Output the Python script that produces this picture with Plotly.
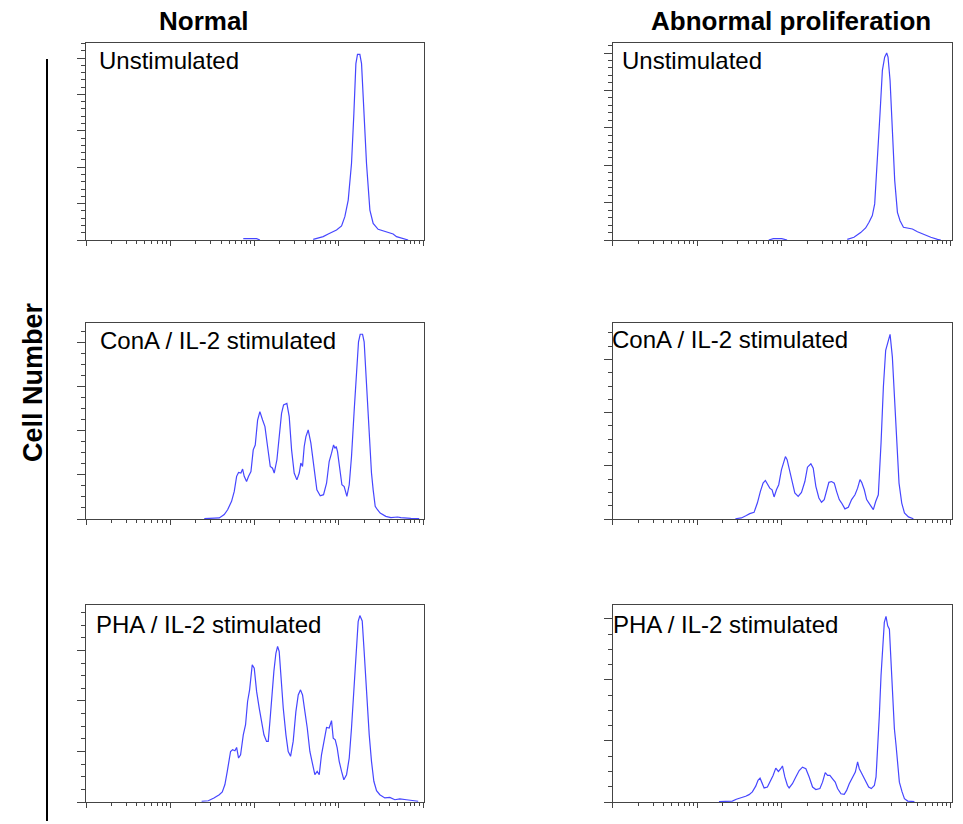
import plotly.graph_objects as go

W, H = 963, 824

# ---- text -------------------------------------------------------------
column_titles = ["Normal", "Abnormal proliferation"]
row_labels = ["Unstimulated", "ConA / IL-2 stimulated", "PHA / IL-2 stimulated"]
y_title = "Cell Number"

# ---- histograms: log10 fluorescence intensity vs. cell count ----------
# (None marks an empty stretch with no events between two populations)
normal_unstim_logfl = [1.866, 1.945, 2.024, 2.063, None, 2.696, 2.814, 2.874,
                       2.972, 3.032, 3.071, 3.111, 3.150, 3.178, 3.202, 3.221, 3.249, 3.269,
                       3.296, 3.328, 3.368, 3.407, 3.466, 3.565, 3.644, 3.684, 3.763, 3.822]
normal_unstim_count = [1.5, 1.8, 1.5, 0, None, 0.7, 3.7, 6.6,
                       11.0, 15.4, 25.6, 43.9, 84.1, 138.9, 193.8, 204.0, 204.0, 193.8,
                       138.9, 84.1, 32.9, 18.3, 11.7, 9.1, 6.6, 3.7, 1.8, 0]

abnormal_unstim_logfl = [1.846, 1.90, 2.00, 2.063, None, 2.775, 2.854, 2.933, 2.992,
                         3.032, 3.071, 3.099, 3.130, 3.162, 3.190, 3.217, 3.241, 3.257, 3.281,
                         3.308, 3.336, 3.368, 3.399, 3.439, 3.506, 3.545, 3.605, 3.684, 3.763,
                         3.842, 3.881]
abnormal_unstim_count = [0, 1.4, 1.4, 0, None, 0.7, 2.9, 7.9, 12.9,
                         18.9, 26.1, 38.6, 81.4, 135.0, 181.4, 195.6, 200.0, 195.6, 170.6,
                         117.1, 63.5, 29.6, 20.7, 13.6, 12.9, 11.8, 8.9, 5.7, 2.9,
                         0.7, 0]

normal_cona_logfl = [1.403, 1.502, 1.581, 1.640, 1.680, 1.727, 1.759, 1.787, 1.810, 1.838,
                     1.858, 1.877, 1.905, 1.929, 1.957, 1.984, 2.008, 2.036, 2.063, 2.095,
                     2.123, 2.154, 2.186, 2.213, 2.233, 2.265, 2.292, 2.320, 2.344, 2.383,
                     2.411, 2.439, 2.470, 2.502, 2.530, 2.549, 2.569, 2.589, 2.609, 2.636,
                     2.668, 2.700, 2.739, 2.779, 2.818, 2.854, 2.885, 2.913, 2.937, 2.953,
                     2.968, 2.984, 3.008, 3.036, 3.063, 3.095, 3.123, 3.150, 3.182, 3.209,
                     3.233, 3.253, 3.281, 3.300, 3.332, 3.360, 3.387, 3.407, 3.431, 3.458,
                     3.490, 3.557, 3.617, 3.696, 3.735, 3.854, 3.953]
normal_cona_count = [0.15, 0.2, 0.5, 2.0, 4.2, 8.0, 12.5, 19.3, 21.1, 20.8,
                     22.6, 19.3, 17.0, 19.3, 21.5, 31.3, 33.5, 44.8, 48.6, 44.8,
                     41.8, 32.8, 23.8, 23.0, 20.8, 26.8, 37.3, 47.8, 51.6, 52.3,
                     46.3, 31.3, 20.8, 17.7, 20.8, 25.3, 23.8, 32.8, 37.3, 40.3,
                     34.3, 23.8, 13.2, 10.5, 11.0, 16.2, 26.0, 29.8, 33.5, 32.0,
                     32.8, 30.5, 23.8, 15.5, 14.7, 10.2, 15.5, 28.3, 49.3, 67.4,
                     80.2, 83.6, 83.6, 80.2, 56.9, 34.3, 20.8, 13.2, 5.7, 4.2,
                     2.7, 1.2, 0.6, 0.9, 0.6, 0.3, 0.15]

abnormal_cona_logfl = [1.451, 1.522, 1.581, 1.621, 1.672, 1.711, 1.747, 1.779, 1.806, 1.830,
                       1.858, 1.885, 1.909, 1.937, 1.964, 1.996, 2.024, 2.043, 2.063, 2.095,
                       2.123, 2.154, 2.194, 2.233, 2.273, 2.304, 2.344, 2.372, 2.403, 2.439,
                       2.470, 2.502, 2.530, 2.557, 2.589, 2.621, 2.648, 2.680, 2.708, 2.747,
                       2.787, 2.826, 2.866, 2.897, 2.925, 2.945, 2.976, 3.004, 3.043, 3.083,
                       3.111, 3.142, 3.174, 3.202, 3.229, 3.261, 3.281, 3.308, 3.332, 3.360,
                       3.387, 3.419, 3.451, 3.498, 3.557]
abnormal_cona_count = [0.1, 0.4, 1.3, 2.0, 2.5, 6.0, 10.4, 13.5, 14.5, 12.9,
                       11.6, 11.0, 8.3, 11.0, 12.9, 18.5, 21.6, 23.5, 22.3, 18.5,
                       14.1, 9.8, 8.5, 10.0, 14.1, 19.5, 20.8, 19.1, 12.3, 7.9,
                       6.3, 7.3, 10.4, 13.8, 14.1, 13.5, 10.4, 7.3, 6.0, 3.8,
                       4.4, 7.3, 9.1, 11.6, 14.8, 13.8, 11.0, 7.3, 5.4, 3.5,
                       6.6, 9.1, 28.5, 49.8, 63.5, 67.9, 69.5, 61.0, 47.3, 28.5,
                       13.5, 6.0, 2.3, 0.8, 0.1]

normal_pha_logfl = [1.372, 1.451, 1.518, 1.581, 1.617, 1.648, 1.676, 1.700, 1.715, 1.739,
                    1.767, 1.787, 1.810, 1.834, 1.866, 1.893, 1.917, 1.941, 1.953, 1.972,
                    1.996, 2.024, 2.055, 2.083, 2.111, 2.142, 2.162, 2.182, 2.206, 2.229,
                    2.253, 2.273, 2.292, 2.312, 2.340, 2.372, 2.399, 2.427, 2.458, 2.490,
                    2.518, 2.545, 2.569, 2.597, 2.625, 2.656, 2.688, 2.715, 2.743, 2.767,
                    2.794, 2.822, 2.854, 2.885, 2.913, 2.933, 2.957, 2.980, 3.004, 3.032,
                    3.059, 3.091, 3.123, 3.150, 3.178, 3.202, 3.229, 3.249, 3.277, 3.300,
                    3.328, 3.360, 3.387, 3.415, 3.447, 3.486, 3.545, 3.605, 3.664, 3.723,
                    3.802, 3.881, 3.941]
normal_pha_count = [0.3, 0.5, 1.6, 2.9, 4.0, 6.9, 12.1, 17.4, 20.0, 20.7,
                    20.3, 21.6, 17.4, 18.7, 26.6, 30.6, 39.8, 44.4, 48.4, 54.3,
                    53.0, 43.8, 37.2, 31.9, 26.6, 24.0, 24.0, 31.9, 42.4, 51.7,
                    58.9, 61.6, 59.6, 49.0, 37.2, 26.6, 20.0, 18.1, 24.0, 35.8,
                    42.4, 44.4, 42.4, 35.8, 29.3, 20.0, 14.8, 10.8, 12.1, 10.8,
                    18.7, 24.0, 29.5, 29.3, 32.2, 25.3, 24.6, 21.4, 16.1, 12.1,
                    8.8, 10.8, 17.4, 29.3, 45.1, 59.6, 71.4, 73.8, 71.7, 59.6,
                    42.4, 26.6, 16.1, 8.2, 4.5, 2.9, 1.6, 1.8, 0.9, 1.2,
                    0.9, 0.7, 0.3]

abnormal_pha_logfl = [1.257, 1.415, 1.462, 1.514, 1.573, 1.613, 1.652, 1.692, 1.719, 1.743,
                      1.763, 1.791, 1.830, 1.870, 1.897, 1.929, 1.960, 1.988, 2.008, 2.036,
                      2.067, 2.087, 2.126, 2.166, 2.206, 2.245, 2.285, 2.324, 2.364, 2.403,
                      2.451, 2.482, 2.514, 2.542, 2.569, 2.601, 2.632, 2.660, 2.700, 2.739,
                      2.767, 2.798, 2.838, 2.870, 2.897, 2.917, 2.937, 2.964, 2.996, 3.028,
                      3.059, 3.095, 3.115, 3.134, 3.154, 3.174, 3.194, 3.213, 3.233, 3.253,
                      3.273, 3.292, 3.312, 3.332, 3.352, 3.372, 3.391, 3.423, 3.451, 3.490,
                      3.569]
abnormal_pha_count = [0.1, 0.3, 0.9, 1.3, 1.9, 2.4, 3.3, 5.2, 7.1, 7.8,
                      6.5, 4.6, 4.9, 7.1, 8.7, 11.1, 10.0, 10.9, 11.8, 8.2,
                      5.4, 4.6, 6.0, 8.2, 10.3, 11.4, 10.9, 8.2, 4.9, 4.1,
                      4.4, 6.5, 9.6, 8.7, 8.7, 7.6, 6.5, 4.4, 2.7, 2.5,
                      3.8, 6.0, 8.2, 9.8, 13.1, 10.9, 9.8, 8.2, 6.5, 4.9,
                      4.4, 5.4, 8.2, 16.3, 28.3, 41.4, 52.3, 58.8, 60.8, 57.7,
                      56.6, 45.7, 34.8, 24.0, 18.5, 12.0, 6.5, 3.3, 1.1, 0.3,
                      0.1]

# count-axis scaling per panel (top of range, major step, minor step)
y_top = [216.5, 210.7, 88.7, 73.75, 78.0, 64.5]
y_major = [40, 40, 20, 20, 20, 20]
y_minor = [8, 8, 5, 5, 5, 5]

panels = [
    (normal_unstim_logfl, normal_unstim_count),
    (abnormal_unstim_logfl, abnormal_unstim_count),
    (normal_cona_logfl, normal_cona_count),
    (abnormal_cona_logfl, abnormal_cona_count),
    (normal_pha_logfl, normal_pha_count),
    (abnormal_pha_logfl, abnormal_pha_count),
]

# ---- geometry (pixels -> paper) ---------------------------------------
def fx(px):
    return px / W


def fy(py):
    return 1 - py / H


col_px = [(86, 424), (612.7, 951.7)]
row_px = [(43, 240), (323, 519), (605, 802)]

LINE_COLOR = "rgb(70,70,255)"
AXIS_COLOR = "#444444"
FONT = "Liberation Sans, Arial, sans-serif"

fig = go.Figure()
layout = {}

for i, (logfl, counts) in enumerate(panels):
    r, c = divmod(i, 2)
    n = "" if i == 0 else str(i + 1)
    fig.add_trace(go.Scatter(
        x=[None if v is None else 10 ** v for v in logfl], y=counts,
        mode="lines", line=dict(color=LINE_COLOR, width=1.2), connectgaps=False,
        xaxis="x" + n, yaxis="y" + n, showlegend=False, hoverinfo="skip",
    ))
    x0, x1 = col_px[c]
    t0, t1 = row_px[r]
    layout["xaxis" + n] = dict(
        domain=[fx(x0), fx(x1)], anchor="y" + n, type="log", range=[0, 4.01],
        dtick=1, ticks="outside", ticklen=5, tickwidth=1, tickcolor=AXIS_COLOR,
        minor=dict(dtick="D1", ticks="outside", ticklen=3, tickwidth=1, tickcolor=AXIS_COLOR),
        showticklabels=False, showgrid=False, zeroline=False,
        showline=True, linecolor=AXIS_COLOR, linewidth=1.2, mirror=True,
    )
    layout["yaxis" + n] = dict(
        domain=[fy(t1), fy(t0)], anchor="x" + n, range=[0, y_top[i]],
        tick0=0, dtick=y_major[i], ticks="outside", ticklen=8, tickwidth=1,
        tickcolor=AXIS_COLOR,
        minor=dict(dtick=y_minor[i], ticks="outside", ticklen=4, tickwidth=1,
                   tickcolor=AXIS_COLOR),
        showticklabels=False, showgrid=False, zeroline=False,
        showline=True, linecolor=AXIS_COLOR, linewidth=1.2, mirror=True,
    )

annotations = []
# column headers
for label, cx in zip(column_titles, [204, 791]):
    annotations.append(dict(
        text="<b>%s</b>" % label, x=fx(cx), y=fy(4), xref="paper", yref="paper",
        xanchor="center", yanchor="top", showarrow=False,
        font=dict(family=FONT, size=26, color="black"),
    ))

# condition labels inside each panel
label_pos = [(97, 45), (620, 45), (98, 325), (610, 324), (94, 609), (611, 609)]
for i, (lx, ly) in enumerate(label_pos):
    annotations.append(dict(
        text=row_labels[i // 2], x=fx(lx), y=fy(ly), xref="paper", yref="paper",
        xanchor="left", yanchor="top", showarrow=False,
        font=dict(family=FONT, size=24, color="black"),
    ))

# shared count-axis title
annotations.append(dict(
    text="<b>%s</b>" % y_title, x=fx(33), y=fy(382), xref="paper", yref="paper",
    xanchor="center", yanchor="middle", textangle=-90, showarrow=False,
    font=dict(family=FONT, size=27, color="black"),
))

layout.update(
    width=W, height=H, margin=dict(l=0, r=0, t=0, b=0),
    paper_bgcolor="white", plot_bgcolor="white",
    annotations=annotations,
    shapes=[dict(type="line", xref="paper", yref="paper",
                 x0=fx(47), x1=fx(47), y0=fy(59), y1=fy(821),
                 line=dict(color="black", width=2))],
)
fig.update_layout(**layout)
fig.write_html("out.html")
